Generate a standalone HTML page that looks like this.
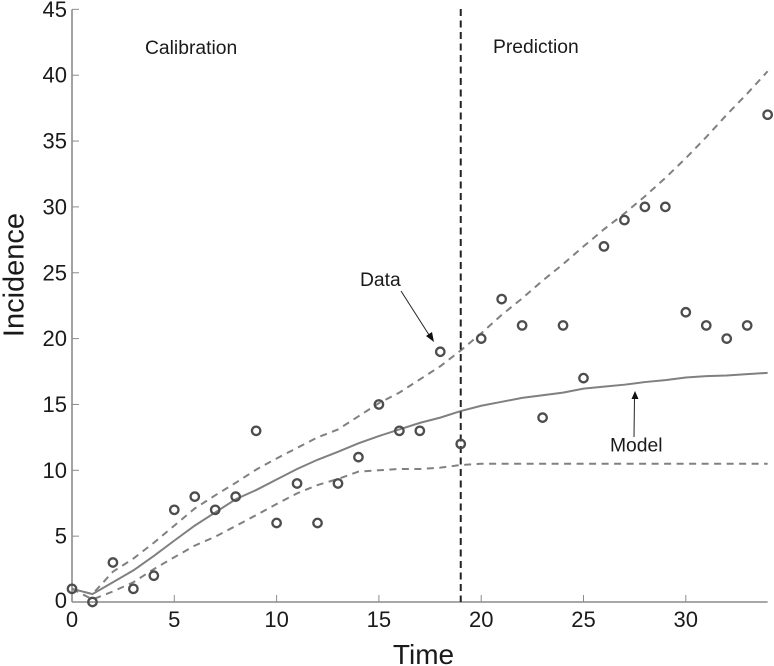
<!DOCTYPE html>
<html>
<head>
<meta charset="utf-8">
<title>Incidence chart</title>
<style>
html,body{margin:0;padding:0;background:#fff;}
svg{display:block;}
text{font-family:"Liberation Sans",sans-serif;fill:#1a1a1a;}
</style>
</head>
<body>
<svg id="chart" xmlns="http://www.w3.org/2000/svg" width="774" height="666" viewBox="0 0 774 666"></svg>
<script>
const xTickLabels = [0, 5, 10, 15, 20, 25, 30];
const yTickLabels = [0, 5, 10, 15, 20, 25, 30, 35, 40, 45];
const times = [0,1,2,3,4,5,6,7,8,9,10,11,12,13,14,15,16,17,18,19,20,21,22,23,24,25,26,27,28,29,30,31,32,33,34];
const observed = [1,0,3,1,2,7,8,7,8,13,6,9,6,9,11,15,13,13,19,12,20,23,21,14,21,17,27,29,30,30,22,21,20,21,37];
const modelMean = [1,0.6,1.5,2.4,3.5,4.66,5.8,6.8,7.8,8.5,9.3,10.1,10.8,11.4,12.05,12.6,13.1,13.6,14,14.5,14.9,15.2,15.5,15.7,15.9,16.2,16.35,16.5,16.7,16.85,17.05,17.15,17.2,17.3,17.4];
const upperBound = [1,0.6,2.3,3.3,4.5,5.8,7.1,8.1,9.05,10.05,10.9,11.7,12.5,13.1,14.1,15.1,15.9,16.9,17.9,19.1,20.4,21.8,23.05,24.4,25.65,27,28.3,29.5,30.8,32.2,33.7,35.3,37,38.6,40.3];
const lowerBound = [1,0.2,0.8,1.5,2.5,3.4,4.28,4.96,5.77,6.6,7.44,8.25,8.88,9.34,9.9,10,10.1,10.1,10.2,10.4,10.5,10.5,10.5,10.5,10.5,10.5,10.5,10.5,10.5,10.5,10.5,10.5,10.5,10.5,10.5];
const splitTime = [19];

const NS = 'http://www.w3.org/2000/svg';
const svg = document.getElementById('chart');
const X = v => 72 + v * 20.46;
const Y = v => 602 - v * 13.17;

function make(tag, attrs, text) {
  const el = document.createElementNS(NS, tag);
  for (const k in attrs) el.setAttribute(k, attrs[k]);
  if (text !== undefined) el.textContent = text;
  svg.appendChild(el);
  return el;
}
function pathFrom(values) {
  return values.map((v, i) => (i ? 'L' : 'M') + X(times[i]).toFixed(2) + ' ' + Y(v).toFixed(2)).join('');
}

// axes
const xAxis = make('line', {x1: X(0), y1: Y(0), x2: X(34), y2: Y(0), stroke: '#8c8c8c', 'stroke-width': 1.6});


const yAxis = make('line', {x1: X(0), y1: Y(0), x2: X(0), y2: Y(45), stroke: '#8c8c8c', 'stroke-width': 1.6});



xTickLabels.forEach(t => {
  const tick = make('line', {x1: X(t), y1: Y(0), x2: X(t), y2: Y(0) - 7, stroke: '#8c8c8c', 'stroke-width': 1});
  
  
  const label = make('text', {x: X(t), y: 627, 'font-size': 22, 'text-anchor': 'middle'}, t);
  
  
});
yTickLabels.forEach(t => {
  const tick = make('line', {x1: X(0), y1: Y(t), x2: X(0) + 7, y2: Y(t), stroke: '#8c8c8c', 'stroke-width': 1});
  
  
  const label = make('text', {x: 67, y: Y(t) + (t === 0 ? 6 : 7.5), 'font-size': 22, 'text-anchor': 'end'}, t);
  
  
});

// series
const upperLine = make('path', {d: pathFrom(upperBound), fill: 'none', stroke: '#808080', 'stroke-width': 2, 'stroke-dasharray': '7 5.5'});


const lowerLine = make('path', {d: pathFrom(lowerBound), fill: 'none', stroke: '#808080', 'stroke-width': 2, 'stroke-dasharray': '7 5.5'});


const meanLine = make('path', {d: pathFrom(modelMean), fill: 'none', stroke: '#808080', 'stroke-width': 2});



// divider
const divider = make('line', {x1: X(splitTime[0]), y1: 9, x2: X(splitTime[0]), y2: Y(0), stroke: '#222', 'stroke-width': 2, 'stroke-dasharray': '7 4.5'});



// points
observed.forEach((v, i) => {
  const c = make('circle', {cx: X(times[i]), cy: Y(v), r: 4.2, fill: 'none', stroke: '#4d4d4d', 'stroke-width': 2.3});
  
  
});

// titles and annotations
const xTitle = make('text', {x: 423.5, y: 664, 'font-size': 28, 'text-anchor': 'middle'}, 'Time');


const yTitle = make('text', {x: 0, y: 0, 'font-size': 29, 'text-anchor': 'middle', transform: 'translate(23.5 275) rotate(-90)'}, 'Incidence');


const calLabel = make('text', {x: 145, y: 54, 'font-size': 19.3}, 'Calibration');


const predLabel = make('text', {x: 493, y: 53, 'font-size': 19.3}, 'Prediction');


const dataLabel = make('text', {x: 360, y: 286, 'font-size': 19.3}, 'Data');


const modelLabel = make('text', {x: 610, y: 451.5, 'font-size': 19.3}, 'Model');



const dataArrow = make('line', {x1: 401, y1: 291, x2: 431, y2: 338, stroke: '#222', 'stroke-width': 1});


const dataHead = make('polygon', {points: '434,342 426,336 432,332', fill: '#111'});


const modelArrow = make('line', {x1: 634, y1: 437, x2: 634.5, y2: 396, stroke: '#222', 'stroke-width': 1});


const modelHead = make('polygon', {points: '635,391 631.5,399 638.5,399', fill: '#111'});


</script>
</body>
</html>
